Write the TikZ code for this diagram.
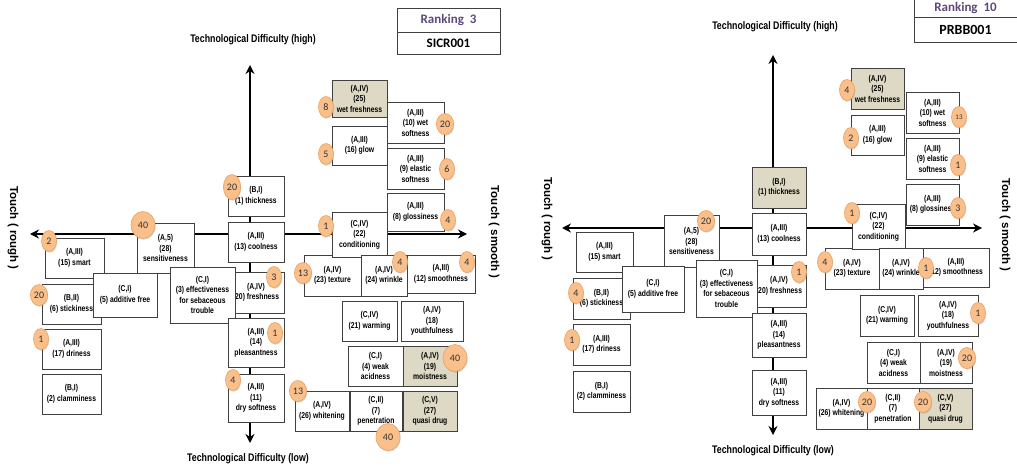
\documentclass[tikz,border=0pt]{standalone}
\usepackage{fontspec}
\setmainfont{Liberation Sans}
\newfontfamily\narrowfont[FakeStretch=0.8]{Liberation Sans}
\newfontfamily\calfont{Carlito}
\usetikzlibrary{arrows.meta,shapes.geometric,shadows}

\definecolor{tanfill}{HTML}{DDD9C4}
\definecolor{badgefill}{RGB}{250,192,140}
\definecolor{badgeedge}{RGB}{237,160,95}
\definecolor{rankpurple}{HTML}{5F497A}

\tikzset{
  item/.style={draw=black!75, line width=0.9pt, fill=white, align=center, inner sep=1pt,
    font=\narrowfont\bfseries\fontsize{8.5}{10.5}\selectfont},
  shaded/.style={item, fill=tanfill},
  wh/.style 2 args={minimum width=#1pt, minimum height=#2pt},
  num/.style={ellipse, fill=badgefill, draw=badgeedge, line width=0.6pt, minimum width=15pt,
    minimum height=21pt, inner sep=1pt, text=black!80, font=\calfont\fontsize{10}{10}\selectfont,
    drop shadow={shadow xshift=0.7pt, shadow yshift=-1.2pt, opacity=0.3}},
  bignum/.style={num, minimum width=24pt, minimum height=27pt},
  axis/.style={line width=2pt, {Stealth[length=9pt,width=9pt]}-{Stealth[length=9pt,width=9pt]}},
  axislabel/.style={font=\narrowfont\bfseries\fontsize{11}{13}\selectfont},
  touchlabel/.style={rotate=-90, font=\bfseries\fontsize{11.5}{13}\selectfont},
  rankbox/.style={draw=black!75, line width=0.8pt, font=\calfont\bfseries\fontsize{13}{15}\selectfont},
}

\begin{document}
\begin{tikzpicture}[x=1pt, y=-1pt]
  \useasboundingbox (0,0) rectangle (1017,473);

  % ---------------- left chart (Ranking 3) ----------------

  % axis end points
  \coordinate (Ltop) at (250,65);
  \coordinate (Lbot) at (250,443);
  \coordinate (Lleft) at (30,234);
  \coordinate (Lright) at (467,234);

  % axes, drawn first so the boxes sit on top
  \draw[axis] (Lbot) -- (Ltop);
  \draw[axis] (Lleft) -- (Lright);

  % axis labels
  \node[axislabel] (Lhigh) at (253,40) {Technological Difficulty (high)};
  \node[axislabel] (Llow) at (248,459) {Technological Difficulty (low)};
  \node[touchlabel] (Lrough) at (13,228) {Touch ( rough )};
  \node[touchlabel] (Lsmoothlab) at (494,232) {Touch ( smooth )};

  % ranking box
  \node[rankbox, wh={103}{24}, text=rankpurple] (Lrank) at (448.5,20) {Ranking\ \ 3};
  \node[rankbox, wh={103}{22}] (Lcode) at (448.5,43) {SICR001};

  % upper right group
  \node[shaded, wh={55}{37}] (Lwetfresh) at (359.5,98.5) {(A,IV)\\(25)\\wet freshness};
  \node[item, wh={57}{41}] (Lwetsoft) at (415.5,122.5) {(A,III)\\(10) wet\\softness};
  \node[item, wh={55}{39}] (Lglow) at (359.5,145.5) {(A,III)\\(16) glow};
  \node[item, wh={57}{41}] (Lelastic) at (415.5,168.5) {(A,III)\\(9) elastic\\softness};
  \node[item, wh={57}{38}] (Lgloss) at (415.5,212) {(A,III)\\(8) glossiness};

  % lower right group
  \node[item, wh={57}{41}] (Ltexture) at (332.5,275.5) {(A,IV)\\(23) texture};
  \node[item, wh={55}{45}] (Lcond) at (359.5,234.5) {(C,IV)\\(22)\\conditioning};
  \node[item, wh={46}{41}] (Lwrinkle) at (384,275.5) {(A,IV)\\(24) wrinkle};
  \node[item, wh={68}{38}] (Lsmooth) at (441,274) {(A,III)\\(12) smoothness};
  \node[item, wh={55}{40}] (Lwarm) at (369.5,321) {(C,IV)\\(21) warming};
  \node[item, wh={62}{40}] (Lyouth) at (432,321) {(A,IV)\\(18)\\youthfulness};
  \node[item, wh={55}{40}] (Lweak) at (375.5,366) {(C,I)\\(4) weak\\acidness};
  \node[shaded, wh={54}{40}] (Lmoist) at (430,366) {(A,IV)\\(19)\\moistness};
  \node[item, wh={54}{40}] (Lwhiten) at (322,411) {(A,IV)\\(26) whitening};
  \node[item, wh={52}{40}] (Lpenet) at (376,411) {(C,II)\\(7)\\penetration};
  \node[shaded, wh={54}{40}] (Lquasi) at (430,411) {(C,V)\\(27)\\quasi drug};

  % centre column
  \node[item, wh={56}{40}] (Lthick) at (256,196) {(B,I)\\(1) thickness};
  \node[item, wh={56}{40}] (Lcool) at (256,242) {(A,III)\\(13) coolness};
  \node[item, wh={57}{50}] (Lsens) at (165.5,248) {(A,5)\\(28)\\sensitiveness};
  \node[item, wh={56}{41}] (Lfresh) at (256,292.5) {(A,IV)\\(20) freshness};
  \node[item, wh={65}{56}] (Leffect) at (202.5,295) {(C,I)\\(3) effectiveness\\for sebaceous\\trouble};
  \node[item, wh={56}{49}] (Lpleas) at (256,342.5) {(A,III)\\(14)\\pleasantness};
  \node[item, wh={56}{48}] (Ldrysoft) at (256,398) {(A,III)\\(11)\\dry softness};

  % left group
  \node[item, wh={59}{40}] (Lsmart) at (74.5,258) {(A,III)\\(15) smart};
  \node[item, wh={59}{40}] (Lstick) at (71.5,304) {(B,II)\\(6) stickiness};
  \node[item, wh={64}{44}] (Ladditive) at (125,295) {(C,I)\\(5) additive free};
  \node[item, wh={59}{40}] (Ldry) at (71.5,349) {(A,III)\\(17) driness};
  \node[item, wh={59}{40}] (Lclam) at (71.5,394) {(B,I)\\(2) clamminess};

  % counts
  \node[num] (Lwetfresh-n) at (326,107) {8};
  \node[num] (Lwetsoft-n) at (445,124) {20};
  \node[num] (Lglow-n) at (326,154) {5};
  \node[num] (Lelastic-n) at (447,169) {6};
  \node[num] (Lgloss-n) at (448,220) {4};
  \node[num] (Lcond-n) at (326,226) {1};
  \node[num] (Ltexture-n) at (303,273) {13};
  \node[num] (Lwrinkle-n) at (400,262) {4};
  \node[num] (Lsmooth-n) at (467,262) {4};
  \node[bignum] (Lmoist-n) at (455,358) {40};
  \node[num] (Lwhiten-n) at (298,391) {13};
  \node[bignum] (Lpenet-n) at (388,437) {40};
  \node[num, minimum height=25pt] (Lthick-n) at (232,187) {20};
  \node[bignum] (Lsens-n) at (143,225) {40};
  \node[num] (Lfresh-n) at (274,277) {3};
  \node[num] (Lpleas-n) at (275,333) {1};
  \node[num] (Ldrysoft-n) at (233,380) {4};
  \node[num] (Lsmart-n) at (49,241) {2};
  \node[num] (Lstick-n) at (39,295) {20};
  \node[num] (Ldry-n) at (41,339) {1};

  % ---------------- right chart (Ranking 10) ----------------

  % axis end points
  \coordinate (Rtop) at (773,55);
  \coordinate (Rbot) at (773,435);
  \coordinate (Rleft) at (562,228);
  \coordinate (Rright) at (982,228);

  \draw[axis] (Rbot) -- (Rtop);
  \draw[axis] (Rleft) -- (Rright);

  % axis labels
  \node[axislabel] (Rhigh) at (775,27) {Technological Difficulty (high)};
  \node[axislabel] (Rlow) at (773,451) {Technological Difficulty (low)};
  \node[touchlabel] (Rrough) at (547,219) {Touch ( rough )};
  \node[touchlabel] (Rsmoothlab) at (1005,225) {Touch ( smooth )};

  % ranking box
  \node[rankbox, wh={103}{17}, text=rankpurple] (Rrank) at (965.5,8.5) {Ranking\ \ 10};
  \node[rankbox, wh={103}{25}, font=\calfont\bfseries\fontsize{14}{16}\selectfont] (Rcode) at (965.5,29.5) {PRBB001};

  % upper right group
  \node[shaded, wh={53}{41}] (Rwetfresh) at (877.5,88.5) {(A,IV)\\(25)\\wet freshness};
  \node[item, wh={53}{41}] (Rwetsoft) at (932.5,112.5) {(A,III)\\(10) wet\\softness};
  \node[item, wh={53}{40}] (Rglow) at (877.5,135) {(A,III)\\(16) glow};
  \node[item, wh={53}{41}] (Relastic) at (932.5,158.5) {(A,III)\\(9) elastic\\softness};
  \node[item, wh={53}{41}] (Rgloss) at (932.5,204.5) {(A,III)\\(8) glossiness};

  % lower right group
  \node[item, wh={54}{41}] (Rtexture) at (852,268.5) {(A,IV)\\(23) texture};
  \node[item, wh={53}{45}] (Rcond) at (878.5,226.5) {(C,IV)\\(22)\\conditioning};
  \node[item, wh={44}{41}] (Rwrinkle) at (901,268.5) {(A,IV)\\(24) wrinkle};
  \node[item, wh={66}{39}] (Rsmooth) at (956,267.5) {(A,III)\\(12) smoothness};
  \node[item, wh={54}{41}] (Rwarm) at (887,315.5) {(C,IV)\\(21) warming};
  \node[item, wh={60}{41}] (Ryouth) at (948,315.5) {(A,IV)\\(18)\\youthfulness};
  \node[item, wh={53}{41}] (Rweak) at (893.5,362.5) {(C,I)\\(4) weak\\acidness};
  \node[item, wh={52}{41}] (Rmoist) at (946,362.5) {(A,IV)\\(19)\\moistness};
  \node[item, wh={51}{41}] (Rwhiten) at (841.5,408.5) {(A,IV)\\(26) whitening};
  \node[item, wh={52}{41}] (Rpenet) at (893,408.5) {(C,II)\\(7)\\penetration};
  \node[shaded, wh={53}{41}] (Rquasi) at (945.5,408.5) {(C,V)\\(27)\\quasi drug};

  % centre column
  \node[shaded, wh={54}{41}] (Rthick) at (779,187.5) {(B,I)\\(1) thickness};
  \node[item, wh={54}{42}] (Rcool) at (779,234) {(A,III)\\(13) coolness};
  \node[item, wh={55}{52}] (Rsens) at (691.5,241) {(A,5)\\(28)\\sensitiveness};
  \node[item, wh={54}{42}] (Rfresh) at (779,286) {(A,IV)\\(20) freshness};
  \node[item, wh={61}{57}] (Reffect) at (726.5,288.5) {(C,I)\\(3) effectiveness\\for sebaceous\\trouble};
  \node[item, wh={54}{44}] (Rpleas) at (779,335) {(A,III)\\(14)\\pleasantness};
  \node[item, wh={54}{45}] (Rdrysoft) at (779,392.5) {(A,III)\\(11)\\dry softness};

  % left group
  \node[item, wh={57}{40}] (Rsmart) at (604.5,252) {(A,III)\\(15) smart};
  \node[item, wh={57}{41}] (Rstick) at (601.5,298.5) {(B,II)\\(6) stickiness};
  \node[item, wh={62}{46}] (Radditive) at (653,289) {(C,I)\\(5) additive free};
  \node[item, wh={57}{41}] (Rdry) at (601.5,344.5) {(A,III)\\(17) driness};
  \node[item, wh={57}{41}] (Rclam) at (601.5,391.5) {(B,I)\\(2) clamminess};

  % counts
  \node[num] (Rwetfresh-n) at (847,90) {4};
  \node[num, font=\calfont\fontsize{7}{7}\selectfont] (Rwetsoft-n) at (959,117) {13};
  \node[num] (Rglow-n) at (851,138) {2};
  \node[num] (Relastic-n) at (958,165) {1};
  \node[num] (Rgloss-n) at (958,208) {3};
  \node[num] (Rcond-n) at (852,213) {1};
  \node[num] (Rtexture-n) at (825,262) {4};
  \node[num] (Rwrinkle-n) at (926,268) {1};
  \node[num] (Ryouth-n) at (978,313) {1};
  \node[num] (Rmoist-n) at (967,358) {20};
  \node[num] (Rwhiten-n) at (867,402) {20};
  \node[num] (Rpenet-n) at (923,402) {20};
  \node[num] (Rfresh-n) at (799,272) {1};
  \node[num] (Rsens-n) at (706,221) {20};
  \node[num] (Rstick-n) at (576,293) {4};
  \node[num] (Rdry-n) at (572,340) {1};

\end{tikzpicture}
\end{document}
